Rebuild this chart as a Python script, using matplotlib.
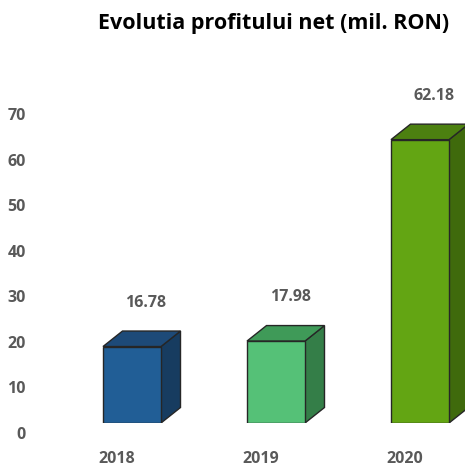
import matplotlib
matplotlib.use("Agg")
import matplotlib.pyplot as plt
from matplotlib.patches import Polygon

years = ["2018", "2019", "2020"]
profits = [16.78, 17.98, 62.18]
value_labels = ["16.78", "17.98", "62.18"]
yticks = [0, 10, 20, 30, 40, 50, 60, 70]
front_colors = ["#215E96", "#55C177", "#63A513"]
top_colors = ["#1D4A78", "#3F9A58", "#4C8010"]
side_colors = ["#173C60", "#347E48", "#3F6A0C"]

W, H, DPI = 465, 466, 100
fig = plt.figure(figsize=(W / DPI, H / DPI), dpi=DPI)

px_per_unit = 4.557
bottom_px = 43
top_val = 80
ax = fig.add_axes([0, bottom_px / H, 1, top_val * px_per_unit / H])
x0_px, spacing_px = 132, 144
ax.set_xlim(-x0_px / spacing_px, (W - x0_px) / spacing_px)
ax.set_ylim(0, top_val)

font = ["Open Sans", "DejaVu Sans"]
gray = "#595959"

bw = 58 / spacing_px
dx = 19.5 / spacing_px
dy = 15.5 / px_per_unit
edge = "#262626"

for i, v in enumerate(profits):
    l, r = i - bw / 2, i + bw / 2
    front = Polygon([(l, 0), (r, 0), (r, v), (l, v)], closed=True,
                    facecolor=front_colors[i], edgecolor=edge, lw=1.0, zorder=3)
    top = Polygon([(l, v), (r, v), (r + dx, v + dy), (l + dx, v + dy)], closed=True,
                  facecolor=top_colors[i], edgecolor=edge, lw=1.0, zorder=2)
    side = Polygon([(r, 0), (r + dx, dy), (r + dx, v + dy), (r, v)], closed=True,
                   facecolor=side_colors[i], edgecolor=edge, lw=1.0, zorder=2)
    for p in (side, top, front):
        ax.add_patch(p)
    ax.annotate(value_labels[i], xy=(i, v), xytext=(14, 44),
                textcoords="offset pixels", ha="center", va="center",
                fontsize=11.5, fontweight="bold", color=gray, family=font)
    ax.annotate(years[i], xy=(i, 0), xytext=(-15, -36),
                textcoords="offset pixels", ha="center", va="center",
                fontsize=11.5, fontweight="bold", color=gray, family=font)

for t in yticks:
    ax.annotate(str(t), xy=(0, t), xycoords=("axes fraction", "data"),
                xytext=(26, -12), textcoords="offset pixels", ha="right", va="center",
                fontsize=11.5, fontweight="bold", color=gray, family=font)

ax.axis("off")

fig.text(274 / W, 1 - 23 / H, "Evolutia profitului net (mil. RON)", ha="center", va="center",
         fontsize=15.5, fontweight="bold", color="black", family=font)

fig.savefig("out.png", dpi=DPI)
